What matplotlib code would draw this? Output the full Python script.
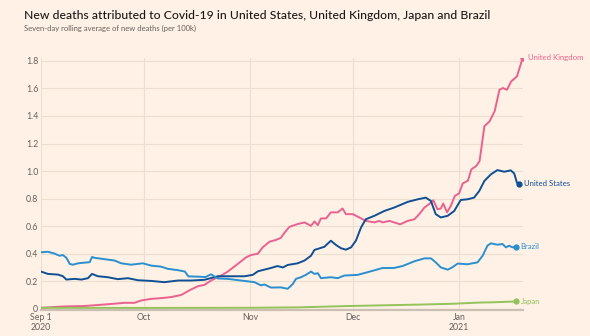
import pandas as pd
import matplotlib.pyplot as plt

# readings taken off the FT chart: day offset from 1 Sep 2020, deaths per 100k
uk_days = [0, 7, 12.7, 18.6, 24.4, 27.3, 29.2, 32.2, 35, 38, 40.9, 43.8, 45.8, 47.7, 49.6,
           52.6, 54.5, 57.4, 59.9, 61.3, 63.3, 64.7, 66.7, 68.6, 70, 71, 72.5, 74.9, 76.9,
           78.8, 79.8, 80.8, 81.7, 83.2, 84.6, 86.6, 88, 89, 91, 92.9, 94.8, 97.3, 98.7,
           99.7, 101.7, 103.1, 104.6, 105, 107, 109, 110.4, 111.9, 113.3, 114.5, 115.7,
           116.7, 117.4, 118.5, 119.6, 120.8, 122, 123.1, 124.6, 125.6, 127, 128, 129.4,
           130.9, 132.4, 133.8, 134.8, 136, 137.2, 138.9, 140.6]
uk_vals = [0.007, 0.017, 0.02, 0.031, 0.043, 0.043, 0.06, 0.072, 0.077, 0.085, 0.10, 0.14,
           0.164, 0.173, 0.205, 0.241, 0.27, 0.325, 0.374, 0.39, 0.40, 0.446, 0.487, 0.50,
           0.515, 0.55, 0.595, 0.615, 0.627, 0.602, 0.634, 0.607, 0.656, 0.656, 0.70, 0.70,
           0.728, 0.687, 0.687, 0.663, 0.638, 0.627, 0.638, 0.627, 0.638, 0.627, 0.615,
           0.615, 0.638, 0.65, 0.687, 0.735, 0.76, 0.788, 0.723, 0.728, 0.764, 0.70, 0.747,
           0.82, 0.837, 0.91, 0.93, 1.012, 1.036, 1.072, 1.325, 1.36, 1.434, 1.59, 1.603,
           1.59, 1.65, 1.687, 1.822]

us_days = [0, 2, 5, 6.4, 7.4, 9.8, 11.8, 13.7, 14.9, 16.6, 19.5, 22.4, 25.4, 28.3, 32.2,
           36, 40, 43.8, 47.7, 51.6, 55.5, 59.4, 61.8, 63.3, 67.1, 69, 70.6, 72, 74.9,
           76.9, 78.8, 79.8, 82.7, 84.6, 86.1, 87.6, 89, 90.5, 91.9, 93.4, 94.8, 97.3,
           100.2, 103.1, 105.5, 107, 110, 112.3, 113.8, 115.2, 116.7, 118.7, 120.6, 122.5,
           124.5, 126.4, 127.9, 129.4, 131.3, 133.2, 135.2, 137.1, 138.1, 138.9, 139.5]
us_vals = [0.27, 0.253, 0.248, 0.236, 0.212, 0.217, 0.212, 0.222, 0.253, 0.236, 0.229,
           0.215, 0.222, 0.207, 0.202, 0.193, 0.205, 0.205, 0.21, 0.236, 0.236, 0.236,
           0.246, 0.272, 0.296, 0.31, 0.30, 0.318, 0.33, 0.35, 0.385, 0.427, 0.45, 0.494,
           0.463, 0.439, 0.429, 0.446, 0.494, 0.59, 0.65, 0.675, 0.71, 0.735, 0.76, 0.776,
           0.795, 0.807, 0.783, 0.687, 0.663, 0.675, 0.71, 0.79, 0.795, 0.807, 0.855,
           0.928, 0.976, 1.007, 0.995, 1.005, 0.983, 0.916, 0.909]

brazil_days = [0, 2, 4, 5.4, 6.4, 7.4, 8.4, 9.3, 10.8, 12.7, 14.2, 14.9, 15.6, 18.6, 21.5,
               23.4, 26.3, 29.7, 32.2, 35, 37, 40, 42, 43, 46, 48, 49.6, 51.6, 54.5, 58.4,
               62.3, 64.2, 65.2, 67.1, 70, 72, 73.5, 74.4, 75.9, 77.3, 78.8, 79.8, 80.8,
               81.7, 84.6, 86.6, 88.5, 92.4, 96.3, 99.7, 103, 105.5, 107, 109, 111.9, 113.8,
               115.2, 116.7, 118.7, 120, 121.6, 124.5, 127.4, 128.9, 130.3, 131.3, 133.2,
               134.7, 135.7, 136.6, 137.6, 138.6]
brazil_vals = [0.41, 0.414, 0.40, 0.385, 0.39, 0.37, 0.325, 0.32, 0.33, 0.335, 0.338, 0.376,
               0.37, 0.36, 0.35, 0.33, 0.32, 0.33, 0.313, 0.306, 0.29, 0.28, 0.27, 0.235,
               0.233, 0.23, 0.25, 0.22, 0.217, 0.205, 0.193, 0.17, 0.176, 0.154, 0.155, 0.145,
               0.18, 0.217, 0.229, 0.246, 0.27, 0.253, 0.258, 0.222, 0.229, 0.222, 0.241,
               0.246, 0.272, 0.296, 0.296, 0.31, 0.325, 0.345, 0.366, 0.366, 0.337, 0.30,
               0.284, 0.30, 0.328, 0.323, 0.337, 0.385, 0.458, 0.475, 0.465, 0.47, 0.446,
               0.458, 0.446, 0.45]

japan_days = [0, 30, 60, 75, 90, 100, 110, 120, 128, 132, 138.6]
japan_vals = [0.007, 0.006, 0.007, 0.01, 0.02, 0.025, 0.03, 0.036, 0.045, 0.047, 0.053]

start = pd.Timestamp('2020-09-01')
series = [
    ('United Kingdom', uk_days, uk_vals, '#e9628f'),
    ('United States', us_days, us_vals, '#0f4f94'),
    ('Brazil', brazil_days, brazil_vals, '#2a8fcf'),
    ('Japan', japan_days, japan_vals, '#93c35a'),
]

bg = '#fff1e5'
plt.rcParams['font.family'] = ['Lato', 'DejaVu Sans']

fig = plt.figure(figsize=(5.9, 3.36), dpi=100, facecolor=bg)
ax = fig.add_axes([0.0695, 0.077, 0.8165, 0.75], facecolor=bg)

for name, days, vals, col in series:
    dates = start + pd.to_timedelta(days, unit='D')
    ax.plot(dates, vals, color=col, lw=1.4, solid_joinstyle='round', zorder=3)
    ax.plot(dates[-1], vals[-1], 'o', color=col, ms=3.5, zorder=4)
    ax.annotate(name, (dates[-1], vals[-1]), xytext=(3.5, 0), textcoords='offset points',
                va='center', ha='left', color=col, fontsize=5.6)

ax.set_xlim(start, start + pd.Timedelta(days=140.6))
ax.set_ylim(-0.01, 1.82)
ax.set_yticks([0, 0.2, 0.4, 0.6, 0.8, 1.0, 1.2, 1.4, 1.6, 1.8])
ax.set_yticklabels(['0', '0.2', '0.4', '0.6', '0.8', '1.0', '1.2', '1.4', '1.6', '1.8'])
months = pd.to_datetime(['2020-09-01', '2020-10-01', '2020-11-01', '2020-12-01', '2021-01-01'])
ax.set_xticks(months)
ax.set_xticklabels(['Sep 1\n2020', 'Oct', 'Nov', 'Dec', 'Jan\n2021'])

ax.grid(True, color='#ebdfd2', lw=0.8)
ax.set_axisbelow(True)
ax.tick_params(length=0, labelsize=6.3, labelcolor='#66605c', pad=2)
for s in ['top', 'right', 'left']:
    ax.spines[s].set_visible(False)
ax.spines['bottom'].set_color('#c9bfb2')
ax.spines['bottom'].set_linewidth(1.6)

fig.text(0.041, 0.955, 'New deaths attributed to Covid-19 in United States, United Kingdom, Japan and Brazil',
         fontsize=8.7, color='#1a1a1a', va='center', fontweight='medium')
fig.text(0.041, 0.915, 'Seven-day rolling average of new deaths (per 100k)',
         fontsize=5.5, color='#66605c', va='center')

fig.savefig('out.png', dpi=100, facecolor=bg)
